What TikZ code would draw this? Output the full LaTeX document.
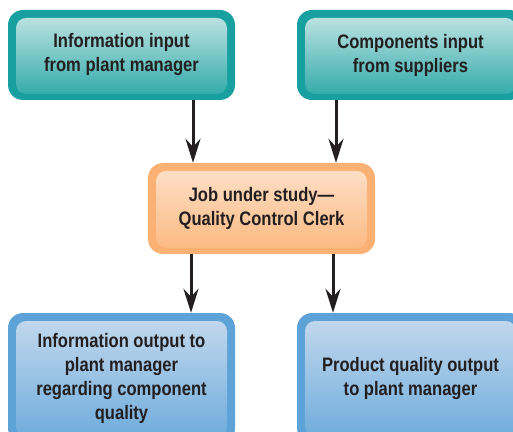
\documentclass[tikz,border=0pt]{standalone}
\usepackage{fontspec}
\setmainfont{Liberation Sans}[FakeStretch=0.85]
\usetikzlibrary{arrows.meta,positioning}
\definecolor{tealB}{RGB}{24,160,160}
\definecolor{tealL}{RGB}{200,230,230}
\definecolor{orB}{RGB}{251,177,115}
\definecolor{orL}{RGB}{253,226,203}
\definecolor{blB}{RGB}{94,163,216}
\definecolor{blL}{RGB}{198,218,238}
\definecolor{txt}{RGB}{35,31,32}
\tikzset{
  box/.style n args={2}{fill=#1, rounded corners=15pt, minimum width=227pt,
    minimum height=90pt, inner sep=0pt, align=center, text=txt,
    font=\fontsize{19.5}{24}\selectfont\bfseries,
    path picture={
      \shade[top color=#2, bottom color=#1!92!white, rounded corners=10pt]
        ([shift={(8pt,-8pt)}]path picture bounding box.north west) rectangle
        ([shift={(-8pt,6pt)}]path picture bounding box.south east);
    }},
  arr/.style={line width=3pt, draw=txt, -{Stealth[length=24pt,width=15pt,inset=8pt]}}
}
\begin{document}
\begin{tikzpicture}[x=1pt,y=1pt]
\useasboundingbox (0,0) rectangle (513,431);
\clip (0,0) rectangle (513,431);
\node[box={tealB}{tealL}] (A) at (121.5,376) {Information input\\from plant manager};
\node[box={tealB}{tealL}] (B) at (410.5,376) {Components input\\from suppliers};
\node[box={orB}{orL}, minimum height=91pt] (C) at (261.5,222.5) {Job under study---\\Quality Control Clerk};
\node[box={blB}{blL}, minimum height=130pt] (D) at (121.5,53) {Information output to\\plant manager\\regarding component\\quality};
\node[box={blB}{blL}, minimum height=130pt] (E) at (410.5,53) {Product quality output\\to plant manager};
\draw[arr] ([xshift=71.5pt]A.south) -- ([xshift=71.5pt]A.south |- C.north);
\draw[arr] ([xshift=-74.5pt]B.south) -- ([xshift=-74.5pt]B.south |- C.north);
\draw[arr] ([xshift=69.5pt]D.north |- C.south) -- ([xshift=69.5pt]D.north);
\draw[arr] ([xshift=-77.5pt]E.north |- C.south) -- ([xshift=-77.5pt]E.north);
\end{tikzpicture}
\end{document}
